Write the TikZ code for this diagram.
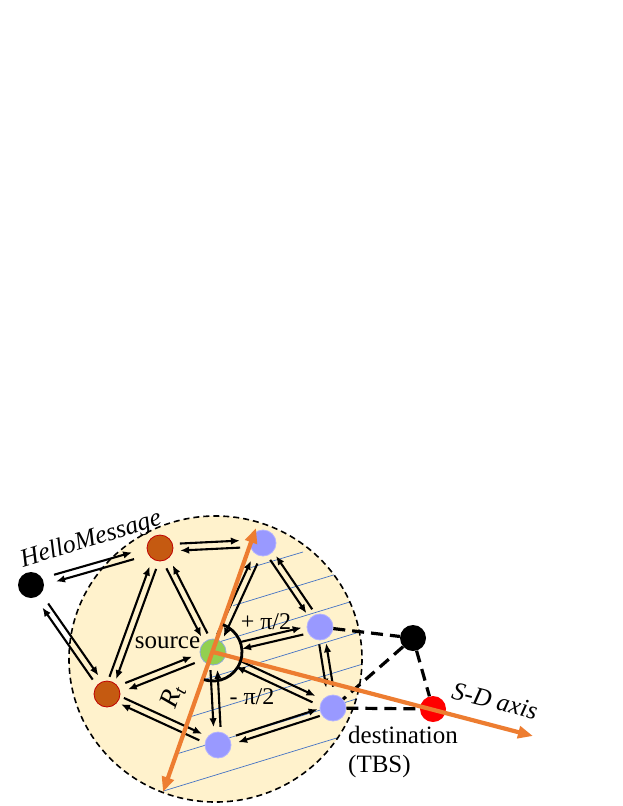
\documentclass[tikz,border=0pt]{standalone}
\usepackage{fontspec}
\setmainfont{Liberation Serif}
\usetikzlibrary{calc,arrows.meta}
\definecolor{peach}{HTML}{FFF2CC}
\definecolor{brownfill}{HTML}{C55A11}
\definecolor{brownedge}{HTML}{C00000}
\definecolor{lav}{HTML}{9999FF}
\definecolor{grn}{HTML}{92D050}
\definecolor{grnedge}{HTML}{8FAADC}
\definecolor{orng}{HTML}{ED7D31}
\definecolor{hatchblue}{HTML}{4472C4}
\newcommand\biarrow[6]{%
  \draw[pairarrow, shorten <=#4pt, shorten >=#5pt] ($(#1)!#3!90:(#2)$) -- ($(#2)!#3!-90:(#1)$);
  \draw[pairarrow, shorten <=#5pt, shorten >=#4pt] ($(#2)!#3!90:(#1)$) -- ($(#1)!#3!-90:(#2)$);%
}
\begin{document}
\begin{tikzpicture}[x=1pt,y=-1pt,
  nodedot/.style={circle,minimum size=26pt,inner sep=0pt},
  blacknode/.style={nodedot,fill=black},
  brownnode/.style={nodedot,fill=brownfill,draw=brownedge,line width=0.8pt},
  lavnode/.style={nodedot,fill=lav,draw=lav!75!white,line width=0.8pt},
  srcnode/.style={nodedot,fill=grn,draw=grnedge,line width=0.8pt},
  rednode/.style={nodedot,fill=red},
  pairarrow/.style={line width=2.1pt,-{Latex[length=9pt,width=7.5pt]}},
  dashlink/.style={line width=3.2pt,dash pattern=on 12pt off 7pt},
  orangearrow/.style={orng,line width=4.2pt},
  hatchline/.style={hatchblue,line width=0.7pt},
  txt/.style={font=\fontsize{25}{29}\selectfont,inner sep=0pt},
  ]
\useasboundingbox (0,0) rectangle (623,806);

% range circle
\fill[peach] (215.5,659) ellipse [x radius=146.5, y radius=143];

% hatching
\begin{scope}
  \clip (215.5,659) ellipse [x radius=146.5, y radius=143];
  \clip (114.5,920.5) -- (308.5,406.5) -- (700,406.5) -- (700,920.5) -- cycle;
  \foreach \c in {677,709,742,775,808,841}
    \draw[hatchline] (0,\c) -- (623,\c-190.6);
  \draw[hatchline] (251,567.5) -- (303,552);
\end{scope}

\draw[line width=1.6pt,dash pattern=on 6pt off 4pt] (215.5,659) ellipse [x radius=146.5, y radius=143];

% nodes
\node[blacknode] (hello) at (31,585) {};
\node[brownnode] (btop) at (160,548) {};
\node[lavnode] (ptop) at (263,543) {};
\node[srcnode] (src) at (213,652) {};
\node[lavnode] (pright) at (320,627) {};
\node[blacknode] (bkright) at (413,638) {};
\node[brownnode] (bleft) at (107,694) {};
\node[lavnode] (pbot) at (218,745) {};
\node[lavnode] (dest) at (333,708) {};
\node[rednode] (tbs) at (433,709) {};

% message pairs
\biarrow{hello}{btop}{3.5pt}{25}{28}{}
\biarrow{hello}{bleft}{3.5pt}{25}{20}{}
\biarrow{btop}{ptop}{3.5pt}{20}{23}{}
\biarrow{bleft}{btop}{3.5pt}{17}{21}{}
\biarrow{btop}{src}{-3.5pt}{21}{19}{}
\biarrow{src}{ptop}{3.5pt}{18}{21}{}
\biarrow{ptop}{pright}{-3.5pt}{18}{19}{}
\biarrow{src}{pright}{3.5pt}{29}{18}{}
\biarrow{bleft}{src}{3.5pt}{21}{21}{}
\biarrow{src}{pbot}{-3.5pt}{18}{18}{}
\biarrow{src}{dest}{3.5pt}{27}{21}{}
\biarrow{bleft}{pbot}{3.5pt}{17}{19}{}
\biarrow{pbot}{dest}{3.5pt}{20}{15}{}
\biarrow{pright}{dest}{-3.5pt}{17}{21}{}

% dashed links
\draw[dashlink] (pright) -- (bkright);
\draw[dashlink] (bkright) -- (dest);
\draw[dashlink] (bkright) -- (tbs);
\draw[dashlink] (dest) -- (tbs);

% orange axes
\coordinate (rtlow) at (163,792);
\coordinate (rthigh) at (256,528);
\coordinate (sdend) at (533,736);
\draw[orangearrow,{Triangle[length=15pt,width=12pt]}-{Triangle[length=15pt,width=12pt]}] (rtlow) -- (rthigh);
\draw[orangearrow,-{Triangle[length=15pt,width=12pt]}] (src.center) -- (sdend);

% angle arc
\draw[line width=2.8pt] (src.center) ++(-70:29) arc[start angle=-70, end angle=108, radius=29];

% labels
\node[txt,font=\itshape\fontsize{25.5}{29}\selectfont,rotate=17,anchor=base] (hellolbl) at (93,546) {HelloMessage};
\node[txt,anchor=base] (srclbl) at (167.5,648) {source};
\node[txt,font=\fontsize{24}{28}\selectfont,anchor=base] (pluslbl) at (266,629) {+ π/2};
\node[txt,font=\fontsize{24}{28}\selectfont,anchor=base] (minuslbl) at (252,704) {- π/2};
\node[txt,rotate=70,font=\itshape\fontsize{27}{31}\selectfont] (rtlbl) at (173,697) {R\textsubscript{t}};
\node[txt,rotate=-14,font=\itshape\fontsize{25.5}{29}\selectfont] (sdlbl) at (495,701) {S-D axis};
\node[txt,anchor=north west,align=left] (destlbl) at (348,726) {destination\\(TBS)};
\end{tikzpicture}
\end{document}
